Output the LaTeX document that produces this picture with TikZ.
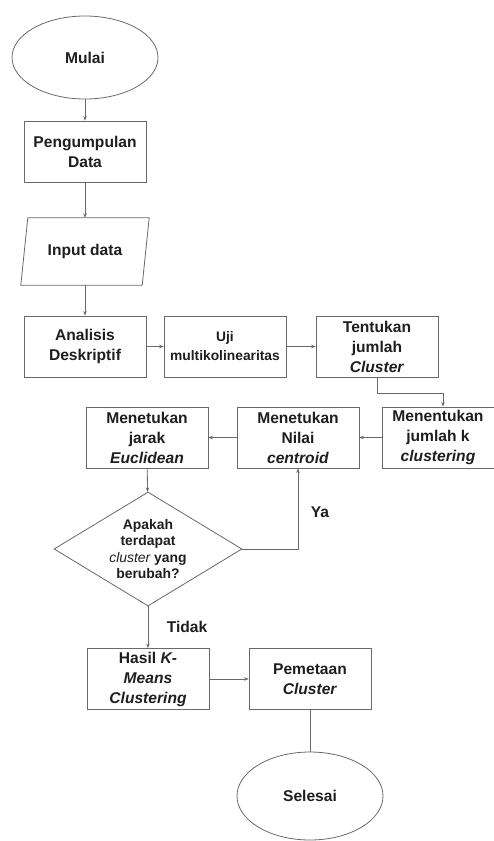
\documentclass[tikz,border=0pt]{standalone}
\usepackage{fontspec}
\setmainfont{Liberation Sans}
\usetikzlibrary{arrows.meta,shapes.geometric,calc}
\definecolor{linegray}{RGB}{105,105,105}
\definecolor{txt}{RGB}{30,30,30}
\begin{document}
\begin{tikzpicture}[x=1pt,y=-1pt,
  line/.style={draw=linegray,line width=0.8pt},
  arr/.style={line,-{Stealth[length=4.5pt,width=3.5pt]}},
  bigfont/.style={font=\fontsize{15.6}{20}\selectfont\bfseries,text=txt},
  box/.style={rectangle,draw=linegray,line width=0.8pt,minimum width=122pt,minimum height=61pt,inner sep=0pt,align=center,bigfont},
  oval/.style={ellipse,draw=linegray,line width=0.8pt,minimum width=146pt,inner sep=0pt,bigfont},
  lbl/.style={inner sep=0pt,bigfont}
]
\useasboundingbox (0,0) rectangle (494,841);

\node[oval,minimum height=83pt] (mulai) at (85,57.5) {Mulai};
\node[box] (peng) at (85,151.5) {Pengumpulan\\Data};
\node[rectangle,minimum width=121pt,minimum height=67pt,inner sep=0pt,bigfont] (input) at (85,251.5) {Input data};
\draw[line] ([xshift=3.5pt]input.north west) -- ([xshift=3.5pt]input.north east)
  -- ([xshift=-3.5pt]input.south east) -- ([xshift=-3.5pt]input.south west) -- cycle;

\node[box] (ana) at (85,346.5) {Analisis\\Deskriptif};
\node[box,font=\fontsize{13.8}{19}\selectfont\bfseries] (uji) at (225,346.5) {Uji\\multikolinearitas};
\node[box] (tent) at (377,346.5) {Tentukan\\jumlah\\\textit{Cluster}};

\node[box,minimum width=112pt] (menk) at (438,437.5) {Menentukan\\jumlah k\\\textit{clustering}};
\node[box] (cent) at (298,437.5) {Menetukan\\Nilai\\\textit{centroid}};
\node[box] (eucl) at (147,437.5) {Menetukan\\jarak\\\textit{Euclidean}};

\node[diamond,draw=linegray,line width=0.8pt,aspect=1.65,minimum width=188pt,minimum height=114pt,inner sep=0pt,align=center,font=\fontsize{13.9}{16.5}\selectfont\bfseries,text=txt] (dec) at (148,549)
  {Apakah\\terdapat\\{\mdseries\itshape cluster} yang\\berubah?};

\node[box] (hasil) at (148,679) {Hasil \textit{K-}\\\textit{Means}\\\textit{Clustering}};
\node[box] (pem) at (310,679) {Pemetaan\\\textit{Cluster}};
\node[oval,minimum height=88pt] (selesai) at (310,796) {Selesai};

\node[lbl] (ya) at (320,512) {Ya};
\node[lbl] (tidak) at (187,627) {Tidak};

\draw[arr] (mulai) -- (peng);
\draw[arr] (peng) -- (input);
\draw[arr] (input) -- (ana);
\draw[arr] (ana) -- (uji);
\draw[arr] (uji) -- (tent);
\draw[arr] (tent.south) -- ++(0,16) -| ([xshift=5pt]menk.north);
\draw[arr] (menk) -- (cent);
\draw[arr] (cent) -- (eucl);
\draw[arr] (eucl) -- (dec);
\draw[arr] (dec.east) -| (cent.south);
\draw[arr] (dec.south) -- (dec.south |- hasil.north);
\draw[arr] (hasil) -- (pem);
\draw[line] (pem) -- (selesai);
\end{tikzpicture}
\end{document}
